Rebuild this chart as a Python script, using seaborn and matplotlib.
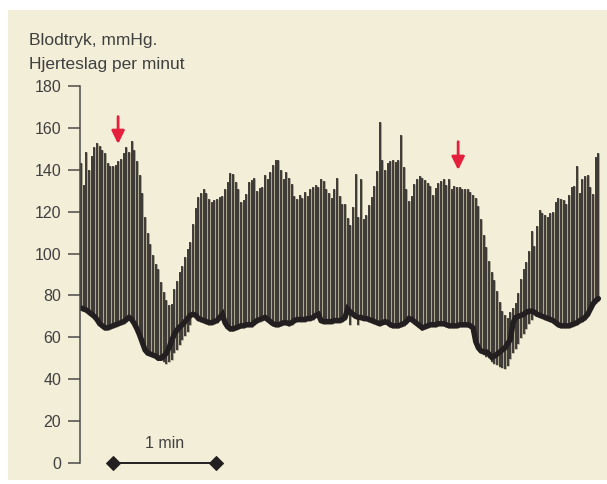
import numpy as np
import pandas as pd
import matplotlib
matplotlib.use("Agg")
import matplotlib.pyplot as plt
import seaborn as sns
from matplotlib.patches import Rectangle

# Systolic pressure (top of each beat), mmHg
systolic = [
    143, 132.6, 148.6, 140, 146.8, 151, 153, 151.5, 149.5, 148,
    143.4, 142, 142, 142.5, 144.3, 145.3, 147.8, 151, 148.6, 153.8,
    149.5, 144, 137.6, 129, 117.6, 110, 104.5, 99.3, 95, 92.6,
    86.2, 81.5, 78, 75.6, 76, 83, 87, 91, 94, 98.3,
    102.3, 105.4, 114.2, 121.8, 127, 129, 131, 129, 126, 124.6,
    125.4, 126.2, 127, 127.3, 131, 134, 138.4, 137.8, 134.4, 131,
    124.6, 125.7, 128.6, 134, 135.3, 136.3, 130, 131.4, 131.9, 137.4,
    135.8, 139, 142.2, 144.8, 144.5, 140, 135.8, 139, 136.1, 133.1,
    127.5, 125.9, 127.9, 126.4, 129.2, 127.5, 130.8, 131.9, 132.5, 131.9,
    135.8, 134.6, 131, 128.7, 126.7, 130.6, 136.3, 127.5, 123.7, 123.7,
    117.2, 113.7, 122, 138.2, 117.3, 135.8, 116.4, 118.5, 123.2, 126.8,
    132.2, 139.5, 162.7, 144.8, 139.8, 143.4, 144, 144.8, 143.7, 144.8,
    156.8, 141.3, 130.6, 125.3, 127.5, 133.1, 135.5, 136.9, 136.3, 135,
    133.5, 132.2, 127.9, 131.4, 133.8, 134.7, 135.4, 132.7, 135.4, 131,
    132.2, 131.9, 131.6, 131, 130.8, 131, 129.6, 128, 126.5, 122.5,
    116.5, 109, 103, 96.5, 91, 87.3, 82, 77, 72.6, 70.6,
    69, 72, 74.2, 76.5, 81, 87.7, 92.4, 96.1, 101, 110.6,
    103.6, 113, 120.7, 119.4, 118.6, 117.5, 119.4, 119.8, 124.6, 126.5,
    126.2, 125.4, 123.8, 128, 132, 132.3, 142, 128.8, 135.5, 136.8,
    137.3, 132, 128.6, 146.3, 147.8,
]

# Diastolic pressure (bottom of each beat), mmHg
diastolic = [
    73, 72.5, 72, 71, 70, 69, 67.5, 65.5, 64.5, 63.5,
    63.5, 64, 64.5, 65, 65.5, 66, 66.5, 67.5, 68.5, 67.5,
    65.5, 63, 60, 56.5, 53, 51.5, 51, 50.5, 50, 49.5,
    49, 48.3, 47.5, 48.3, 49, 52.3, 53.8, 56.2, 58.6, 60.7,
    62.5, 65.7, 70, 69.5, 68, 67.5, 67, 66.5, 66, 66,
    66.5, 67, 68.5, 70, 66, 64, 63, 63, 63.5, 64,
    64.5, 64.5, 65, 65, 65, 66, 67, 67.5, 68, 68.5,
    67.5, 66.5, 65.5, 65, 65, 65.5, 66, 66, 65.5, 66,
    67, 67.5, 67.5, 67.5, 67.5, 68, 68, 68.5, 69.5, 70,
    67, 66.5, 66.5, 66.5, 66.5, 67, 67, 67, 67.5, 68.5,
    72.5, 66, 70, 69, 66, 68.5, 68, 68, 67.5, 67,
    66.5, 66, 65.5, 66, 66.5, 66, 65, 64.5, 64.5, 64.5,
    65, 65.5, 66.5, 68, 67.5, 66.5, 65.5, 64.5, 63.5, 64,
    64.5, 65, 65, 65, 65.5, 65.5, 65.5, 65, 64.5, 64.5,
    64.5, 64.5, 65, 65, 65, 65, 64.5, 63.5, 57, 54,
    52.5, 51.5, 50.7, 50, 48.3, 47.5, 46.7, 45.9, 45.2, 45,
    46.2, 49.5, 52.3, 54.6, 57, 59.7, 61.7, 64.1, 66.5, 68.5,
    71, 70, 69.5, 69, 68.5, 68, 67.5, 67, 66, 65,
    64.5, 64.5, 64.5, 64.5, 65, 65.5, 66, 67, 67.5, 68.5,
    70, 72.5, 75, 76.5, 77.5,
]

# Heart rate, beats per minute
heart_rate = [
    74, 73.5, 73, 72, 71, 70, 68.5, 66.5, 65.5, 64.5,
    64.5, 65, 65.5, 66, 66.5, 67, 67.5, 68.5, 69.5, 68.5,
    66.5, 64, 61, 57.5, 54, 52.5, 52, 51.5, 51, 50,
    50, 51, 52.5, 55, 58.5, 61.5, 63.5, 65, 66, 67.5,
    69, 70.5, 71, 70.5, 69, 68.5, 68, 67.5, 67, 67,
    67.5, 68, 69.5, 71, 67, 65, 64, 64, 64.5, 65,
    65.5, 65.5, 66, 66, 66, 67, 68, 68.5, 69, 69.5,
    68.5, 67.5, 66.5, 66, 66, 66.5, 67, 67, 66.5, 67,
    68, 68.5, 68.5, 68.5, 68.5, 69, 69, 69.5, 70.5, 71,
    68, 67.5, 67.5, 67.5, 67.5, 68, 68, 68, 68.5, 69.5,
    73.5, 72, 71, 70, 69.5, 69.5, 69, 69, 68.5, 68,
    67.5, 67, 66.5, 67, 67.5, 67, 66, 65.5, 65.5, 65.5,
    66, 66.5, 67.5, 69, 68.5, 67.5, 66.5, 65.5, 64.5, 65,
    65.5, 66, 66, 66, 66.5, 66.5, 66.5, 66, 65.5, 65.5,
    65.5, 65.5, 66, 66, 66, 66, 65.5, 64.5, 58, 55,
    53.5, 53, 53, 52, 50.5, 51, 52, 53, 54, 55,
    57, 59, 67, 69.5, 70, 70.5, 71, 72, 72.5, 72.5,
    72, 71, 70.5, 70, 69.5, 69, 68.5, 68, 67, 66,
    65.5, 65.5, 65.5, 65.5, 66, 66.5, 67, 68, 68.5, 69.5,
    71, 73.5, 76, 77.5, 78.5,
]

y_ticks = [0, 20, 40, 60, 80, 100, 120, 140, 160, 180]
title_lines = ["Blodtryk, mmHg.", "Hjerteslag per minut"]
scale_label = "1 min"
scale_start_s = 18.7      # scale bar start, seconds
scale_length_s = 60.0     # one minute
arrow_times_s = [21.6, 219.8]
arrow_tips = [152.3, 139.9]
arrow_tails = [165.4, 153.4]

BEAT_S = 60 / 38.6        # seconds between plotted beats
BEIGE = "#f2eed8"
INK = "#231f20"
SHADE = "#9d9882"
TEXT = "#404040"
RED = "#e5203c"

sns.set_theme(style="ticks")
plt.rcParams["font.family"] = ["Liberation Sans", "DejaVu Sans"]

n = len(systolic)
t = np.arange(n) * BEAT_S

beats = pd.DataFrame({
    "t": np.repeat(t, 2),
    "p": np.column_stack([diastolic, systolic]).ravel(),
    "beat": np.repeat(np.arange(n), 2),
})
hr = pd.DataFrame({"t": t, "hr": heart_rate})

W, H = 607, 484
fig = plt.figure(figsize=(W / 100, H / 100), dpi=100, facecolor="white")
fig.patches.append(Rectangle((8 / W, 4 / H), 599 / W, 470 / H,
                             transform=fig.transFigure, facecolor=BEIGE,
                             edgecolor="none", zorder=-10))
ax = fig.add_axes([80 / W, 21 / H, 525 / W, 377 / H])
ax.set_facecolor("none")

# pressure oscillations: one vertical stroke per beat
sns.lineplot(data=beats, x="t", y="p", units="beat", estimator=None,
             color=SHADE, lw=1.9, ax=ax, legend=False)
sns.lineplot(data=beats, x="t", y="p", units="beat", estimator=None,
             color=INK, lw=1.1, ax=ax, legend=False)
for ln in ax.lines:
    ln.set_solid_capstyle("butt")

# heart rate trace
sns.lineplot(data=hr, x="t", y="hr", color=INK, lw=3.9, ax=ax, legend=False)
ax.lines[-1].set_solid_joinstyle("miter")

# time scale bar
sns.lineplot(x=[scale_start_s, scale_start_s + scale_length_s], y=[0, 0],
             color=INK, lw=1.4, marker="D", markersize=7,
             markeredgecolor=INK, ax=ax, legend=False)
ax.lines[-1].set_clip_on(False)
ax.text(scale_start_s + scale_length_s / 2, 5.5, scale_label,
        ha="center", va="bottom", fontsize=11.5, color=TEXT)

# intervention markers
for xt, tip, tail in zip(arrow_times_s, arrow_tips, arrow_tails):
    ax.annotate("", xy=(xt, tip), xytext=(xt, tail),
                arrowprops=dict(arrowstyle="-|>,head_length=0.65,head_width=0.32",
                                color=RED, lw=2.0, shrinkA=0, shrinkB=0))

ax.set_xlim(-0.6, 305.4)
ax.set_ylim(0, 180)
ax.set_yticks(y_ticks)
ax.set_xlabel("")
ax.set_ylabel("")
ax.xaxis.set_visible(False)
for side in ("top", "right", "bottom"):
    ax.spines[side].set_visible(False)
ax.spines["left"].set_color("#4a4a4a")
ax.spines["left"].set_linewidth(1.1)
ax.tick_params(axis="y", direction="out", length=8.6, width=1.1,
               color="#4a4a4a", pad=5, labelsize=11.5, labelcolor=TEXT)

fig.text(29 / W, 1 - 45 / H, title_lines[0], fontsize=12.5, color=TEXT, va="baseline")
fig.text(29 / W, 1 - 69 / H, title_lines[1], fontsize=12.5, color=TEXT, va="baseline")

fig.savefig("out.png", dpi=100, facecolor="white")
